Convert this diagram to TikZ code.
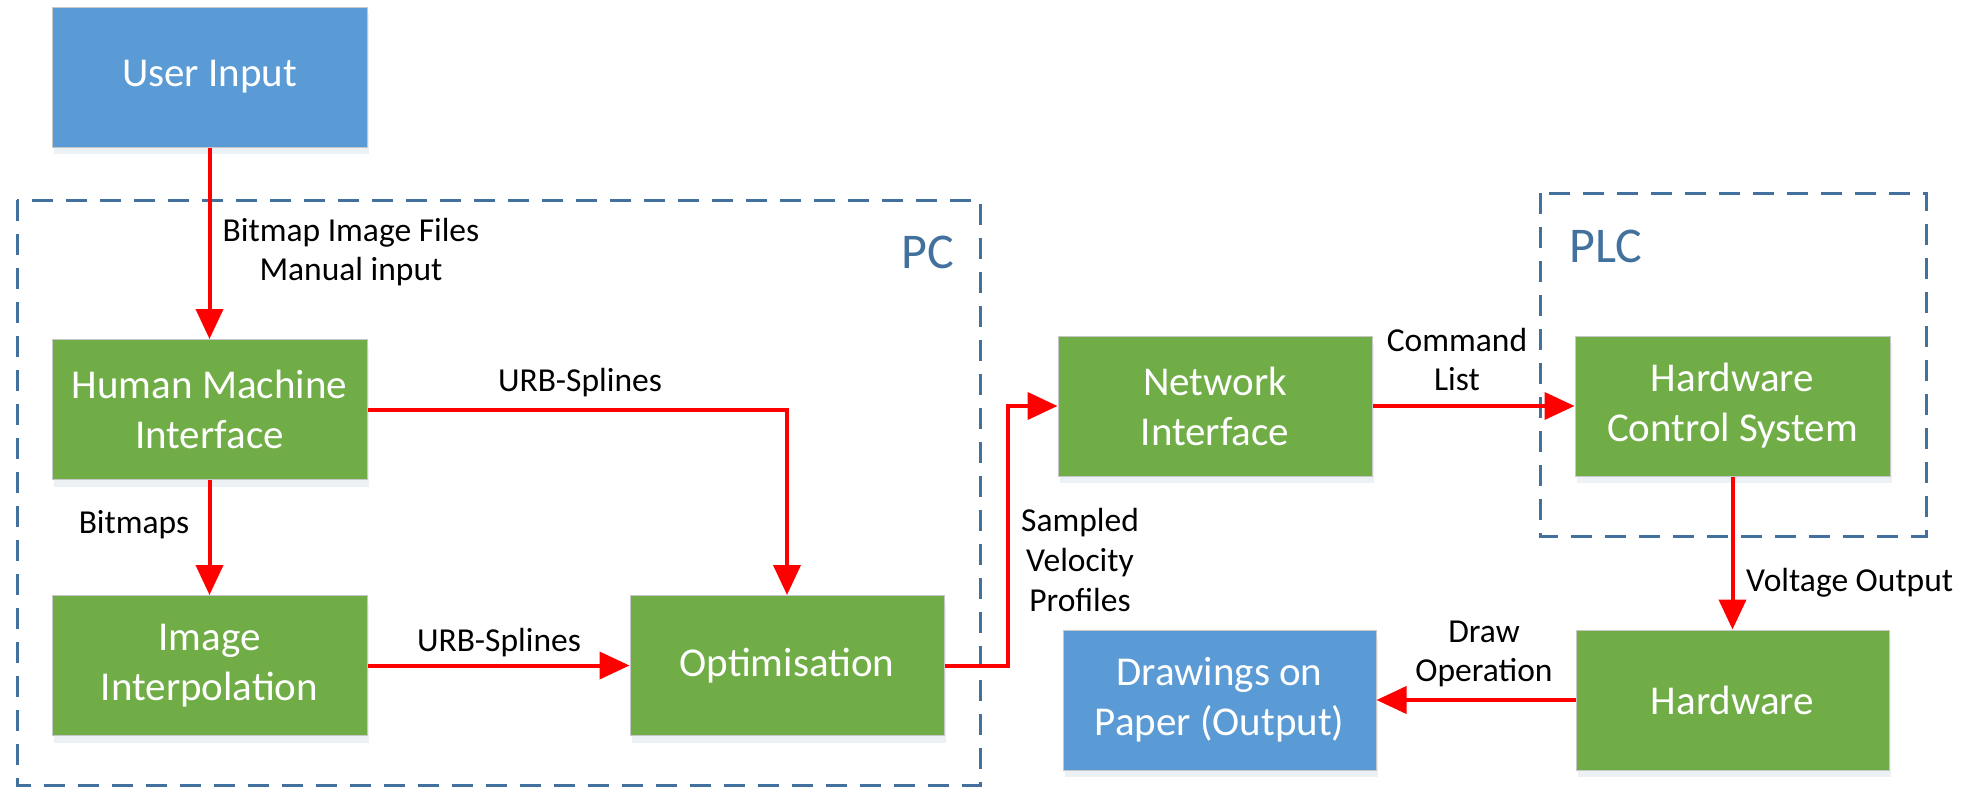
\documentclass[tikz,border=0pt]{standalone}
\usepackage{fontspec}
\setmainfont{Carlito}
\usetikzlibrary{arrows.meta,shadows}
\definecolor{boxblue}{HTML}{5B9BD5}
\definecolor{boxgreen}{HTML}{70AD47}
\definecolor{dashblue}{HTML}{41719C}
\definecolor{arrred}{HTML}{FF0000}
\tikzset{
  box/.style={draw=black!22, line width=1pt, minimum width=315pt, minimum height=140pt,
    text=white, align=center, font=\fontsize{41}{50}\selectfont, inner sep=0pt,
    drop shadow={shadow xshift=2pt, shadow yshift=-7pt, opacity=0.10, fill=dashblue}},
  gbox/.style={box, fill=boxgreen},
  bbox/.style={box, fill=boxblue},
  group/.style={draw=dashblue, line width=3pt, dash pattern=on 21pt off 13pt},
  grouplabel/.style={text=dashblue, font=\fontsize{50}{60}\selectfont, inner sep=0pt},
  lbl/.style={align=center, font=\fontsize{33.5}{39}\selectfont, inner sep=0pt},
  flow/.style={draw=arrred, line width=4pt, -{Triangle[length=30pt,width=27pt]}},
}
\begin{document}
\begin{tikzpicture}[x=1pt,y=-1pt]
\useasboundingbox (0,0) rectangle (1975,806);
% groups
\draw[group] (17,200) rectangle (980,785);
\draw[group] (1540,193) rectangle (1926,536);
\node[grouplabel] (pc) at (928,252) {PC};
\node[grouplabel] (plc) at (1606,246) {PLC};
% boxes
\node[bbox] (ui) at (209.5,77) {User Input};
\node[gbox] (hmi) at (209.5,409.5) {Human Machine\\Interface};
\node[gbox] (ii) at (209.5,665.5) {Image\\Interpolation};
\node[gbox, minimum width=314pt] (opt) at (787,665.5) {Optimisation};
\node[gbox, minimum width=314pt] (ni) at (1215,406) {Network\\Interface};
\node[gbox] (hcs) at (1732.5,406) {Hardware\\Control System};
\node[gbox, minimum width=313pt] (hw) at (1732.5,700) {Hardware};
\node[bbox, minimum width=313pt] (dr) at (1219.5,700) {Drawings on\\Paper (Output)};
% connectors
\coordinate (bend) at (1008,0);
\draw[flow] (ui.south) -- (hmi.north);
\draw[flow] (hmi.east) -| (opt.north);
\draw[flow] (hmi.south) -- (ii.north);
\draw[flow] (ii.east) -- (opt.west);
\draw[flow] (opt.east) -- (opt.east -| bend) |- (ni.west);
\draw[flow] (ni.east) -- (hcs.west);
\draw[flow] (hcs.south) -- (hw.north);
\draw[flow] (hw.west) -- (dr.east);
% labels
\node[lbl] (l1) at (351,252) {Bitmap Image Files\\Manual input};
\node[lbl] (l2) at (580,383) {URB-Splines};
\node[lbl] (l3) at (134,525) {Bitmaps};
\node[lbl] (l4) at (499,643) {URB-Splines};
\node[lbl, font=\fontsize{33.5}{40}\selectfont] (l5) at (1080,560) {Sampled\\Velocity\\Profiles};
\node[lbl] (l6) at (1457,359) {Command\\List};
\node[lbl, anchor=west] (l7) at (1746,583) {Voltage Output};
\node[lbl] (l8) at (1484,654) {Draw\\Operation};
\end{tikzpicture}
\end{document}
